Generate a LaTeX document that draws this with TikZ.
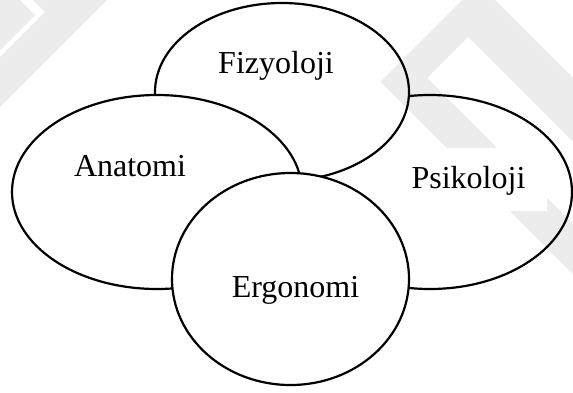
\documentclass[tikz,border=0pt]{standalone}
\usepackage{fontspec}
\setmainfont{Liberation Serif}
\usetikzlibrary{shapes.geometric}
\begin{document}
\begin{tikzpicture}[x=0.5pt,y=-0.5pt,
  blob/.style={ellipse,draw=black,line width=1.1pt,fill=white,inner sep=0pt},
  lbl/.style={anchor=base,inner sep=0pt,font=\fontsize{16}{19}\selectfont},
  wmark/.style={fill=black,opacity=0.075}]
\useasboundingbox (0,0) rectangle (573,392);
% ellipses, back to front
\node[blob,minimum width=142pt,minimum height=97pt] (psi) at (430,192) {};
\node[blob,minimum width=127pt,minimum height=89pt] (fiz) at (282,92) {};
\node[blob,minimum width=145pt,minimum height=97pt] (ana) at (157,192) {};
\node[blob,minimum width=118.5pt,minimum height=106pt] (erg) at (290.5,279) {};
% faint watermark
\fill[wmark] (0,0) -- (20,0) -- (35,15) -- (0,50) -- cycle;
\fill[wmark] (33,0) -- (107,0) -- (0,107) -- (0,57) -- (45,12) -- cycle;
\fill[wmark] (462,0) -- (380.5,81.5) -- (573,274) -- (573,224) -- (427,78)
  -- (468,37) -- (573,142) -- (573,78) -- (495,0) -- cycle;
\fill[white] (395,148) rectangle (547,211);
% labels
\node[lbl] (tfiz) at (276,73) {Fizyoloji};
\node[lbl] (tana) at (130,176) {Anatomi};
\node[lbl] (tpsi) at (468.5,188) {Psikoloji};
\node[lbl] (terg) at (295.5,297) {Ergonomi};
\end{tikzpicture}
\end{document}
